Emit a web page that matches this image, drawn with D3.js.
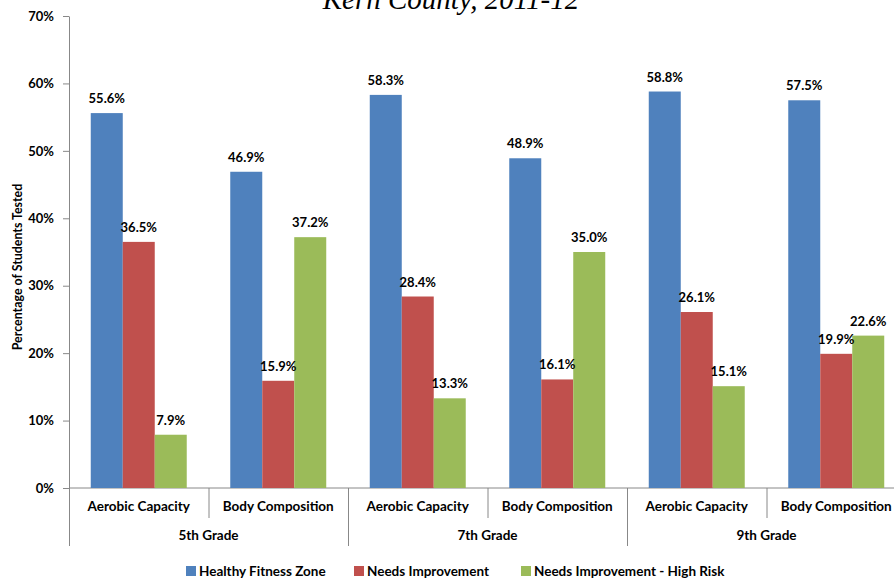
<!DOCTYPE html>
<html>
<head>
<meta charset="utf-8">
<script src="https://cdn.jsdelivr.net/npm/d3@7"></script>
<style>
  body { margin: 0; background: #fff; }
  svg { display: block; }
  text { font-family: Lato, "Open Sans", sans-serif; font-weight: bold; fill: #000; }
</style>
</head>
<body>
<div id="chart"></div>
<script>
const grades = ['5th Grade', '7th Grade', '9th Grade'];
const tests = ['Aerobic Capacity', 'Body Composition'];
const seriesNames = ['Healthy Fitness Zone', 'Needs Improvement', 'Needs Improvement - High Risk'];
const healthy = [55.6, 46.9, 58.3, 48.9, 58.8, 57.5];
const needsImp = [36.5, 15.9, 28.4, 16.1, 26.1, 19.9];
const highRisk = [7.9, 37.2, 13.3, 35.0, 15.1, 22.6];
const yTicks = [0, 10, 20, 30, 40, 50, 60, 70];

const COLORS = ['#4F81BD', '#C0504D', '#9BBB59'];
const W = 894, H = 579;
const M = {left: 69, top: 16, plotRight: 906, bottom: 488};

const svg = d3.select('#chart').append('svg')
  .attr('width', W).attr('height', H);

// categories: grade x test
const cats = [];
grades.forEach(g => tests.forEach(t => cats.push({grade: g, test: t})));
const rows = cats.map((c, i) => ({
  key: i, ...c, values: [healthy[i], needsImp[i], highRisk[i]]
}));

const x0 = d3.scaleBand().domain(d3.range(cats.length))
  .range([M.left, M.plotRight]).padding(0);
const x1 = d3.scaleBand().domain(d3.range(3))
  .range([0, x0.bandwidth()]).paddingInner(0).paddingOuter(0.68);
const y = d3.scaleLinear().domain([0, 70]).range([M.bottom, M.top]);

// title (partly off the top)
svg.append('text')
  .attr('x', 451).attr('y', 9)
  .attr('text-anchor', 'middle')
  .style('font-family', '"Liberation Serif", "DejaVu Serif", serif')
  .style('font-weight', 'normal')
  .style('font-style', 'italic')
  .style('font-size', '29px')
  .text('Kern County, 2011-12');

// y axis
const yAxis = svg.append('g')
  .attr('transform', `translate(${M.left},0)`)
  .call(d3.axisLeft(y).tickValues(yTicks).tickFormat(d => d + '%').tickSize(6).tickSizeOuter(0));
yAxis.select('.domain').attr('stroke', '#888');
yAxis.selectAll('.tick line').attr('stroke', '#888');
yAxis.selectAll('.tick text')
  .attr('x', -15)
  .style('font-size', '13px')
  .style('font-family', 'Lato, sans-serif');

svg.append('text')
  .attr('transform', 'translate(22,267) rotate(-90)')
  .attr('text-anchor', 'middle')
  .style('font-size', '12.4px')
  .text('Percentage of Students Tested');

// x axis line
svg.append('line')
  .attr('x1', M.left).attr('x2', M.plotRight)
  .attr('y1', y(0)).attr('y2', y(0))
  .attr('stroke', '#888');

// dividers
cats.forEach((c, i) => {
  const isGroup = i % tests.length === 0;
  svg.append('line')
    .attr('x1', x0(i) + 0.5).attr('x2', x0(i) + 0.5)
    .attr('y1', y(0)).attr('y2', isGroup ? 546 : 518)
    .attr('stroke', '#888');
});

// bars
const groups = svg.selectAll('.cat').data(rows).enter().append('g')
  .attr('class', 'cat')
  .attr('transform', d => `translate(${x0(d.key)},0)`);

groups.selectAll('rect').data(d => d.values).enter().append('rect')
  .attr('x', (d, i) => x1(i))
  .attr('y', d => y(d))
  .attr('width', x1.bandwidth())
  .attr('height', d => y(0) - y(d))
  .attr('fill', (d, i) => COLORS[i]);

groups.selectAll('.lbl').data(d => d.values).enter().append('text')
  .attr('class', 'lbl')
  .attr('x', (d, i) => x1(i) + x1.bandwidth() / 2)
  .attr('y', d => y(d) - 10)
  .attr('text-anchor', 'middle')
  .style('font-size', '13px')
  .text(d => d.toFixed(1) + '%');

// category labels
groups.append('text')
  .attr('x', x0.bandwidth() / 2)
  .attr('y', 511)
  .attr('text-anchor', 'middle')
  .style('font-size', '13.5px')
  .text(d => d.test);

// grade labels
grades.forEach((g, gi) => {
  const start = x0(gi * tests.length);
  svg.append('text')
    .attr('x', start + x0.bandwidth() * tests.length / 2)
    .attr('y', 540)
    .attr('text-anchor', 'middle')
    .style('font-size', '13.5px')
    .text(g);
});

// legend
const legendX = [186, 354, 521];
const legend = svg.selectAll('.legend').data(seriesNames).enter().append('g')
  .attr('class', 'legend')
  .attr('transform', (d, i) => `translate(${legendX[i]},566)`);
legend.append('rect')
  .attr('width', 10).attr('height', 10)
  .attr('fill', (d, i) => COLORS[i]);
legend.append('text')
  .attr('x', 13).attr('y', 10)
  .style('font-size', '13.5px')
  .text(d => d);
</script>
</body>
</html>
